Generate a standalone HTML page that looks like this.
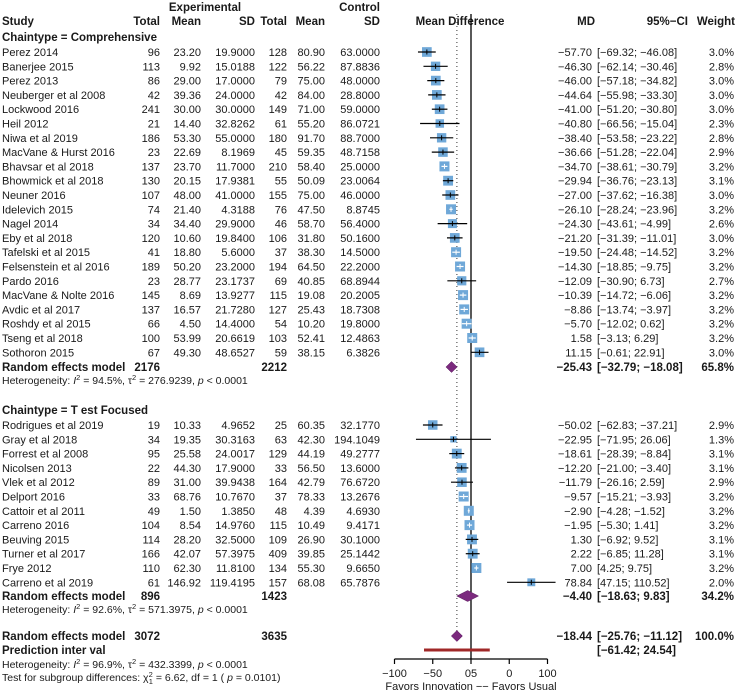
<!DOCTYPE html>
<html><head><meta charset="utf-8"><style>
html,body{margin:0;padding:0;background:#fff;}
svg{display:block;font-family:"Liberation Sans",sans-serif;}
</style></head><body>
<svg id="c" width="737" height="693" viewBox="0 0 737 693"></svg>
<script>
const studies1 = ["Perez 2014","Banerjee 2015","Perez 2013","Neuberger et al 2008","Lockwood 2016","Heil 2012","Niwa et al 2019","MacVane & Hurst 2016","Bhavsar et al 2018","Bhowmick et al 2018","Neuner 2016","Idelevich 2015","Nagel 2014","Eby et al 2018","Tafelski et al 2015","Felsenstein et al 2016","Pardo 2016","MacVane & Nolte 2016","Avdic et al 2017","Roshdy et al 2015","Tseng et al 2018","Sothoron 2015"];
const eTot1 = ["96","113","86","42","241","21","186","23","137","130","107","74","34","120","41","189","23","145","137","66","100","67"];
const eMean1 = ["23.20","9.92","29.00","39.36","30.00","14.40","53.30","22.69","23.70","20.15","48.00","21.40","34.40","10.60","18.80","50.20","28.77","8.69","16.57","4.50","53.99","49.30"];
const eSD1 = ["19.9000","15.0188","17.0000","24.0000","30.0000","32.8262","55.0000","8.1969","11.7000","17.9381","41.0000","4.3188","29.9000","19.8400","5.6000","23.2000","23.1737","13.9277","21.7280","14.4000","20.6619","48.6527"];
const cTot1 = ["128","122","79","42","149","61","180","45","210","55","155","76","46","106","37","194","69","115","127","54","103","59"];
const cMean1 = ["80.90","56.22","75.00","84.00","71.00","55.20","91.70","59.35","58.40","50.09","75.00","47.50","58.70","31.80","38.30","64.50","40.85","19.08","25.43","10.20","52.41","38.15"];
const cSD1 = ["63.0000","87.8836","48.0000","28.8000","59.0000","86.0721","88.7000","48.7158","25.0000","23.0064","46.0000","8.8745","56.4000","50.1600","14.5000","22.2000","68.8944","20.2005","18.7308","19.8000","12.4863","6.3826"];
const md1 = [-57.70,-46.30,-46.00,-44.64,-41.00,-40.80,-38.40,-36.66,-34.70,-29.94,-27.00,-26.10,-24.30,-21.20,-19.50,-14.30,-12.09,-10.39,-8.86,-5.70,1.58,11.15];
const lo1 = [-69.32,-62.14,-57.18,-55.98,-51.20,-66.56,-53.58,-51.28,-38.61,-36.76,-37.62,-28.24,-43.61,-31.39,-24.48,-18.85,-30.90,-14.72,-13.74,-12.02,-3.13,-0.61];
const hi1 = [-46.08,-30.46,-34.82,-33.30,-30.80,-15.04,-23.22,-22.04,-30.79,-23.13,-16.38,-23.96,-4.99,-11.01,-14.52,-9.75,6.73,-6.06,-3.97,0.62,6.29,22.91];
const w1 = [3.0,2.8,3.0,3.0,3.0,2.3,2.8,2.9,3.2,3.1,3.0,3.2,2.6,3.0,3.2,3.2,2.7,3.2,3.2,3.2,3.2,3.0];

const studies2 = ["Rodrigues et al 2019","Gray et al 2018","Forrest et al 2008","Nicolsen 2013","Vlek et al 2012","Delport 2016","Cattoir et al 2011","Carreno 2016","Beuving 2015","Turner et al 2017","Frye 2012","Carreno et al 2019"];
const eTot2 = ["19","34","95","22","89","33","49","104","114","166","110","61"];
const eMean2 = ["10.33","19.35","25.58","44.30","31.00","68.76","1.50","8.54","28.20","42.07","62.30","146.92"];
const eSD2 = ["4.9652","30.3163","24.0017","17.9000","39.9438","10.7670","1.3850","14.9760","32.5000","57.3975","11.8100","119.4195"];
const cTot2 = ["25","63","129","33","164","37","48","115","109","409","134","157"];
const cMean2 = ["60.35","42.30","44.19","56.50","42.79","78.33","4.39","10.49","26.90","39.85","55.30","68.08"];
const cSD2 = ["32.1770","194.1049","49.2777","13.6000","76.6720","13.2676","4.6930","9.4171","30.1000","25.1442","9.6650","65.7876"];
const md2 = [-50.02,-22.95,-18.61,-12.20,-11.79,-9.57,-2.90,-1.95,1.30,2.22,7.00,78.84];
const lo2 = [-62.83,-71.95,-28.39,-21.00,-26.16,-15.21,-4.28,-5.30,-6.92,-6.85,4.25,47.15];
const hi2 = [-37.21,26.06,-8.84,-3.40,2.59,-3.93,-1.52,1.41,9.52,11.28,9.75,110.52];
const w2 = [2.9,1.3,3.1,3.1,2.9,3.2,3.2,3.2,3.1,3.1,3.2,2.0];

const pooledMD = [-25.43,-4.40,-18.44];
const pooledLo = [-32.79,-18.63,-25.76];
const pooledHi = [-18.08,9.83,-11.12];
const pooledW = ["65.8%","34.2%","100.0%"];
const predInt = [-61.42,24.54];
const tickVals = [-100,-50,0,50,100];
const tickLabels = ["\u2212100","\u221250","05","0","100"];

const svg = document.getElementById('c');
const NS = "http://www.w3.org/2000/svg";
const X0 = 471, SC = 0.765;
function xs(v){ return X0 + v*SC; }
function mk(tag, attrs, name){
  const e = document.createElementNS(NS, tag);
  for (const k in attrs) e.setAttribute(k, attrs[k]);
  
  
  svg.appendChild(e); return e;
}
function txt(x, y, s, anchor, name, opts){
  opts = opts || {};
  const t = mk('text', {x:x, y:y+4, 'text-anchor':anchor||'start', 'font-size':opts.size||11, 'font-weight':opts.bold?'bold':'normal', fill:'#1a1a1a'}, name);
  t.textContent = s; return t;
}
function fmt(v){ return (v<0?"\u2212":"") + Math.abs(v).toFixed(2); }
function ci(l,h){ return "[" + fmt(l) + "; " + (h<0?"":" ") + fmt(h) + "]"; }

txt(205,7,"Experimental","middle","experimental-header",{bold:1,size:11.5});
txt(380,7,"Control","end","control-header",{bold:1,size:11.5});
txt(2,21,"Study","start","study-header",{bold:1,size:11.5});
txt(160,21,"Total","end","exp-total-header",{bold:1,size:11.5});
txt(201,21,"Mean","end","exp-mean-header",{bold:1,size:11.5});
txt(255,21,"SD","end","exp-sd-header",{bold:1,size:11.5});
txt(287,21,"Total","end","ctrl-total-header",{bold:1,size:11.5});
txt(325,21,"Mean","end","ctrl-mean-header",{bold:1,size:11.5});
txt(380,21,"SD","end","ctrl-sd-header",{bold:1,size:11.5});
txt(460,21,"Mean Difference","middle","plot-header",{bold:1,size:11.5});
txt(595,21,"MD","end","md-header",{bold:1,size:11.5});
txt(688,21,"95%\u2212CI","end","ci-header",{bold:1,size:11.5});
txt(735,21,"Weight","end","weight-header",{bold:1,size:11.5});

mk('line',{x1:X0,y1:14,x2:X0,y2:659,stroke:'#000','stroke-width':1.3},'null-line');
mk('line',{x1:xs(pooledMD[2]),y1:14,x2:xs(pooledMD[2]),y2:640,stroke:'#333','stroke-width':1,'stroke-dasharray':'1,3'},'pooled-effect-line');

function studyRows(names,et,em,es,ct,cm,cs,md,lo,hi,w,y0,grp){
  for (let i=0;i<names.length;i++){
    const y = y0 + i*14.3;
    txt(2,y,names[i],'start','study-name-'+grp);
    txt(160,y,et[i],'end','exp-total');
    txt(201,y,em[i],'end','exp-mean');
    txt(255,y,es[i],'end','exp-sd');
    txt(287,y,ct[i],'end','ctrl-total');
    txt(325,y,cm[i],'end','ctrl-mean');
    txt(380,y,cs[i],'end','ctrl-sd');
    txt(592,y,fmt(md[i]),'end','md-value');
    txt(597,y,ci(lo[i],hi[i]),'start','ci-value');
    txt(734,y,w[i].toFixed(1)+"%",'end','weight-value');
    const s = 10*Math.sqrt(w[i]/3.2);
    const cx = xs(md[i]);
    mk('rect',{x:cx-s/2,y:y-s/2,width:s,height:s,fill:'#6fa8d8'},'study-box');
    const inside = (xs(hi[i])-xs(lo[i])) < s;
    mk('line',{x1:xs(lo[i]),y1:y,x2:xs(hi[i]),y2:y,stroke:inside?'#fff':'#000','stroke-width':1.2},'study-ci');
    mk('line',{x1:cx,y1:y-2.5,x2:cx,y2:y+2.5,stroke:inside?'#fff':'#000','stroke-width':1},'study-point');
  }
}
function diamond(k,y){
  const l=xs(pooledLo[k]),h=xs(pooledHi[k]),m=xs(pooledMD[k]);
  mk('polygon',{points:`${l},${y} ${m},${y-5.5} ${h},${y} ${m},${y+5.5}`,fill:'#7b2a7e',stroke:'#5a1a5e','stroke-width':0.5},'pooled-diamond');
}
function pooledRow(k,y,et,ct,label){
  txt(2,y,label,'start','random-effects-label',{bold:1,size:11.5});
  if(et) txt(160,y,et,'end','exp-total-sum',{bold:1,size:11.5});
  if(ct) txt(287,y,ct,'end','ctrl-total-sum',{bold:1,size:11.5});
  txt(592,y,fmt(pooledMD[k]),'end','pooled-md',{bold:1,size:11.5});
  txt(597,y,ci(pooledLo[k],pooledHi[k]),'start','pooled-ci',{bold:1,size:11.5});
  txt(734,y,pooledW[k],'end','pooled-weight',{bold:1,size:11.5});
  diamond(k,y);
}
function het(y,i2,tau,name){
  const t = mk('text',{x:2,y:y+4,'font-size':10.5,fill:'#1a1a1a'},name);
  t.innerHTML = `Heterogeneity:  <tspan font-style="italic">I</tspan><tspan dy="-4" font-size="7.5">2</tspan><tspan dy="4"> = ${i2},  \u03c4</tspan><tspan dy="-4" font-size="7.5">2</tspan><tspan dy="4"> = ${tau},   </tspan><tspan font-style="italic">p</tspan> &lt; 0.0001`;
}

txt(2,37,"Chaintype = Comprehensive","start","subgroup-comprehensive",{bold:1,size:11.5});
studyRows(studies1,eTot1,eMean1,eSD1,cTot1,cMean1,cSD1,md1,lo1,hi1,w1,52,'comprehensive');
pooledRow(0,367,"2176","2212","Random effects model");
het(380,"94.5%","276.9239","het-comprehensive");

txt(2,410,"Chaintype = T  est Focused","start","subgroup-test-focused",{bold:1,size:11.5});
studyRows(studies2,eTot2,eMean2,eSD2,cTot2,cMean2,cSD2,md2,lo2,hi2,w2,425,'test-focused');
pooledRow(1,596,"896","1423","Random effects model");
het(609,"92.6%","571.3975","het-test-focused");

pooledRow(2,636,"3072","3635","Random effects model");
txt(2,650,"Prediction inter  val","start","prediction-interval-label",{bold:1,size:11.5});
txt(597,650,"[" + fmt(predInt[0]) + "; " + fmt(predInt[1]) + "]","start","prediction-ci",{bold:1,size:11.5});
mk('line',{x1:xs(predInt[0]),y1:650,x2:xs(predInt[1]),y2:650,stroke:'#a02828','stroke-width':3},'prediction-interval-bar');
het(664,"96.9%","432.3399","het-overall");
const tt = mk('text',{x:2,y:681,'font-size':10.5,fill:'#1a1a1a'},'subgroup-test');
tt.innerHTML = 'Test for subgroup differences:    \u03c7<tspan dy="-4" font-size="7.5">2</tspan><tspan dy="7" dx="-4" font-size="7.5">1</tspan><tspan dy="-3"> = 6.62, df = 1 (  </tspan><tspan font-style="italic">p</tspan> = 0.0101)';

mk('line',{x1:xs(tickVals[0]),y1:659,x2:xs(tickVals[tickVals.length-1]),y2:659,stroke:'#000','stroke-width':1.2},'x-axis');
for (let i=0;i<tickVals.length;i++){
  mk('line',{x1:xs(tickVals[i]),y1:659,x2:xs(tickVals[i]),y2:664,stroke:'#000','stroke-width':1.2},'x-tick');
  txt(xs(tickVals[i]),673,tickLabels[i],'middle','x-tick-label',{size:11});
}
txt(X0,686,"Favors Innovation \u2212\u2212 Favors Usual","middle","x-axis-title",{size:11});
</script>
</body></html>
